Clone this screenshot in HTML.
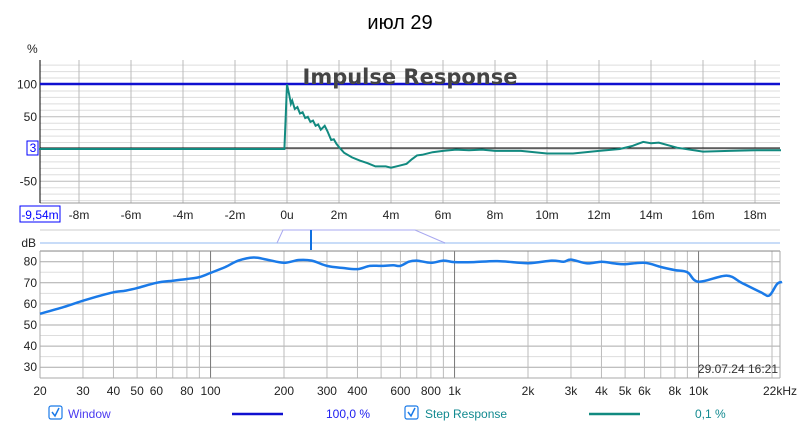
<!DOCTYPE html>
<html><head><meta charset="utf-8"><style>
body{margin:0;background:#fff;width:800px;height:430px;overflow:hidden;font-family:"Liberation Sans",sans-serif}
</style></head><body>
<svg id="s" width="800" height="430" xmlns="http://www.w3.org/2000/svg" font-family="Liberation Sans, sans-serif">
<rect width="800" height="430" fill="#fff"/>
<text x="400" y="29" font-size="20" text-anchor="middle" fill="#000">июл 29</text>
<text x="27" y="53" font-size="12" fill="#222">%</text>
<g id="up"></g>
<g id="lo"></g>
</svg>
<script>
const NS="http://www.w3.org/2000/svg";
function el(p,t,a,txt){const e=document.createElementNS(NS,t);for(const k in a)e.setAttribute(k,a[k]);if(txt!==undefined)e.textContent=txt;p.appendChild(e);return e;}
const up=document.getElementById('up'),lo=document.getElementById('lo');
const X0=40,X1=780,T0=60,T1=203;
const tx=ms=>287+ms*26, py=v=>149-v*0.645;
for(let v=-80;v<=130;v+=10){const y=py(v);if(y<T0||y>T1)continue;el(up,'line',{x1:X0,x2:X1,y1:y,y2:y,stroke:(v%50==0)?'#bbb':'#ddd','stroke-width':1});}
for(let m=-8;m<=18;m+=2){const x=tx(m);el(up,'line',{x1:x,x2:x,y1:T0,y2:T1,stroke:'#bbb'});el(up,'text',{x:x,y:219,'font-size':12,'text-anchor':'middle',fill:'#222'},m==0?'0u':m+'m');}
el(up,'line',{x1:X0,x2:X1,y1:T1,y2:T1,stroke:'#999'});
el(up,'line',{x1:X0,x2:X0,y1:T0,y2:T1,stroke:'#000'});
[[100,'100'],[50,'50'],[-50,'-50']].forEach(([v,t])=>el(up,'text',{x:37,y:py(v)+4,'font-size':12,'text-anchor':'end',fill:'#222'},t));
el(up,'rect',{x:27,y:141,width:11,height:14,fill:'#fff',stroke:'#00f'});
el(up,'text',{x:33,y:152,'font-size':12,'text-anchor':'middle',fill:'#00f'},'3');
el(up,'rect',{x:20,y:206,width:40,height:16,fill:'#fff',stroke:'#00f'});
el(up,'text',{x:40,y:219,'font-size':12,'text-anchor':'middle',fill:'#00f'},'-9,54m');
el(up,'line',{x1:X0,x2:X1,y1:148,y2:148,stroke:'#000'});
el(up,'line',{x1:X0,x2:X1,y1:84,y2:84,stroke:'#1010d0','stroke-width':2.5});
el(up,'text',{x:410,y:84,'font-size':21,'font-weight':'bold','font-family':'DejaVu Sans, sans-serif','text-anchor':'middle',fill:'#444'},'Impulse Response');
const imp=[[-9.54,0],[-0.1,0],[0,100],[0.08,85],[0.15,70],[0.2,75],[0.3,62],[0.4,65],[0.5,55],[0.6,57],[0.7,48],[0.8,50],[0.9,42],[1.0,44],[1.1,36],[1.2,38],[1.3,30],[1.45,36],[1.55,28],[1.7,14],[1.8,15],[1.9,8],[2.0,3],[2.2,-6],[2.5,-13],[2.8,-18],[3.1,-22],[3.4,-27],[3.8,-27],[4.0,-29],[4.3,-26],[4.6,-23],[4.8,-16],[5.0,-10],[5.2,-9],[5.6,-5],[6.0,-3],[6.5,-1],[7,-2],[7.5,-1],[8,-3],[9,-3],[10,-7],[11,-7],[12,-3],[12.8,0],[13.3,5],[13.7,11],[14,9],[14.3,10],[15,2],[16,-4],[17,-3],[18,-2],[19,-2]];
el(up,'polyline',{points:imp.map(p=>tx(p[0]).toFixed(1)+','+py(p[1]).toFixed(1)).join(' '),fill:'none',stroke:'#128a80','stroke-width':2});
el(lo,'line',{x1:X0,x2:X1,y1:230,y2:230,stroke:'#ccc'});
el(lo,'line',{x1:X0,x2:X1,y1:243,y2:243,stroke:'#c8dcf8','stroke-width':2});
el(lo,'polyline',{points:'277,243 283,230 415,230 445,243',fill:'none',stroke:'#a8a8f0','stroke-width':1});
el(lo,'line',{x1:311,x2:311,y1:230,y2:250,stroke:'#1070e0','stroke-width':2});
el(lo,'text',{x:36,y:247,'font-size':12,'text-anchor':'end',fill:'#222'},'dB');
const B0=251,B1=378,fx=f=>40+Math.log10(f/20)*244, dy=d=>261.7-(d-80)*2.11;
for(let d=30;d<=85;d+=5){const y=dy(d);el(lo,'line',{x1:X0,x2:X1,y1:y,y2:y,stroke:d%10==0?'#aaa':'#ddd'});}
for(let dec of [10,100,1000,10000]){for(let k=1;k<10;k++){const f=dec*k;if(f<20||f>22000)continue;const x=fx(f);el(lo,'line',{x1:x,x2:x,y1:B0,y2:B1,stroke:k==1?'#777':'#bbb'});}}
el(lo,'line',{x1:X0,x2:X1,y1:B0,y2:B0,stroke:'#888'});
el(lo,'line',{x1:X0,x2:X1,y1:B1,y2:B1,stroke:'#aaa'});
el(lo,'line',{x1:X0,x2:X0,y1:B0,y2:B1,stroke:'#aaa'});
el(lo,'line',{x1:X1,x2:X1,y1:B0,y2:B1,stroke:'#aaa'});
for(let d=30;d<=80;d+=10)el(lo,'text',{x:37,y:dy(d)+4,'font-size':12,'text-anchor':'end',fill:'#222'},d);
[[20,'20'],[30,'30'],[40,'40'],[50,'50'],[60,'60'],[80,'80'],[100,'100'],[200,'200'],[300,'300'],[400,'400'],[600,'600'],[800,'800'],[1000,'1k'],[2000,'2k'],[3000,'3k'],[4000,'4k'],[5000,'5k'],[6000,'6k'],[8000,'8k'],[10000,'10k']].forEach(([f,t])=>el(lo,'text',{x:fx(f),y:395,'font-size':12,'text-anchor':'middle',fill:'#222'},t));
el(lo,'text',{x:797,y:395,'font-size':12,'text-anchor':'end',fill:'#222'},'22kHz');
el(lo,'text',{x:778,y:373,'font-size':12,'text-anchor':'end',fill:'#333'},'29.07.24 16:21');
const fr=[[20,55.3],[25,58.5],[30,61.5],[35,63.8],[40,65.5],[45,66.3],[50,67.5],[60,70],[70,71],[80,71.8],[90,72.7],[100,74.7],[115,77.5],[130,80.5],[150,82],[170,81],[200,79.5],[230,80.8],[260,80.5],[300,78],[350,77],[400,76.5],[450,78],[500,78],[560,78.3],[600,78],[650,80],[700,80.5],[800,79.5],[900,80.5],[1000,79.8],[1200,79.8],[1500,80.3],[2000,79.3],[2500,80.5],[2800,80],[3000,81],[3500,79.2],[4000,80],[4500,79.2],[5000,78.8],[6000,79.5],[7000,77.5],[8000,76],[9000,75],[10000,70.5],[13000,73.4],[15000,70],[18000,65.5],[19500,64],[21000,69.5],[22000,70.4]];
const P=fr.map(p=>[fx(p[0]),dy(p[1])]);
let d='M'+P[0][0].toFixed(1)+','+P[0][1].toFixed(1);
for(let i=0;i<P.length-1;i++){const p0=P[Math.max(0,i-1)],p1=P[i],p2=P[i+1],p3=P[Math.min(P.length-1,i+2)];
const c1=[p1[0]+(p2[0]-p0[0])/6,p1[1]+(p2[1]-p0[1])/6],c2=[p2[0]-(p3[0]-p1[0])/6,p2[1]-(p3[1]-p1[1])/6];
d+=` C${c1[0].toFixed(1)},${c1[1].toFixed(1)} ${c2[0].toFixed(1)},${c2[1].toFixed(1)} ${p2[0].toFixed(1)},${p2[1].toFixed(1)}`;}
el(lo,'path',{d:d,fill:'none',stroke:'#1a7ae8','stroke-width':2.5,'stroke-linejoin':'round'});
function cb(x){el(lo,'rect',{x:x,y:406,width:13,height:13,rx:2,fill:'#fff',stroke:'#1a7ae8','stroke-width':1.2});el(lo,'polyline',{points:`${x+3},${412} ${x+6},${416} ${x+10},${408}`,fill:'none',stroke:'#1a7ae8','stroke-width':1.5});}
cb(49);el(lo,'text',{x:68,y:418,'font-size':12,fill:'#4a3af0'},'Window');
el(lo,'line',{x1:232,x2:283,y1:414,y2:414,stroke:'#1010d0','stroke-width':2.5});
el(lo,'text',{x:326,y:418,'font-size':12,fill:'#2020f0'},'100,0 %');
cb(405);el(lo,'text',{x:425,y:418,'font-size':12,fill:'#128a90'},'Step Response');
el(lo,'line',{x1:589,x2:640,y1:414,y2:414,stroke:'#128a80','stroke-width':2.5});
el(lo,'text',{x:695,y:418,'font-size':12,fill:'#128a90'},'0,1 %');
</script>
</body></html>
